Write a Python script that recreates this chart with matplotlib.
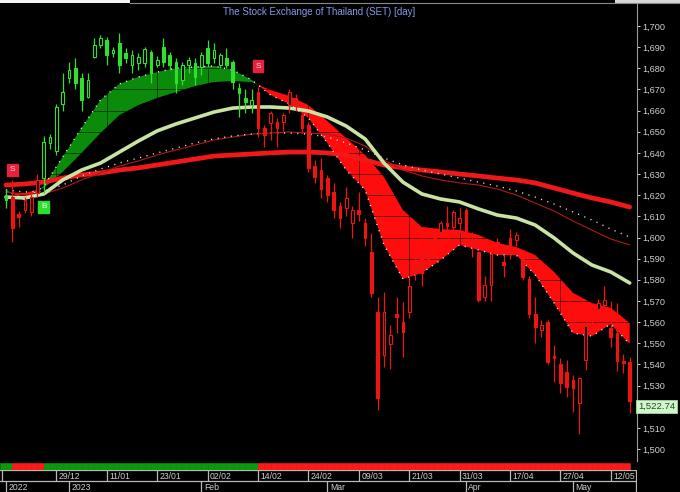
import matplotlib
matplotlib.use('Agg')
import matplotlib.pyplot as plt
import matplotlib.transforms as mtransforms
from matplotlib.patches import Rectangle
import numpy as np

plt.rcParams['font.family'] = ['Liberation Sans', 'DejaVu Sans']

# daily candles of the SET index, 19/12/2022 .. 16/05/2023
opens = [1620, 1619, 1611, 1613, 1612, 1621, 1628, 1644.5, 1641, 1663,
         1675.5, 1680, 1675.5, 1666.5, 1685.3, 1691, 1693.4, 1687.2, 1692, 1687,
         1681.6, 1682.5, 1682.5, 1687.7, 1681.6, 1690, 1686.3, 1683, 1674.5, 1681.6,
         1682.5, 1680.6, 1689.6, 1685, 1681.6, 1685, 1683, 1670.7, 1666, 1662.6,
         1669, 1652, 1654, 1654.6, 1654.6, 1662.6, 1666, 1658, 1653, 1634,
         1632, 1628, 1621.5, 1615, 1614, 1607, 1613, 1607, 1593, 1564.8,
         1544.5, 1549.5, 1564, 1560, 1565, 1589, 1593, 1594, 1601, 1602.6,
         1607, 1605, 1607, 1613, 1599, 1593, 1572, 1577.5, 1598, 1588.5,
         1600, 1599, 1590, 1580.5, 1564, 1556.3, 1560, 1544, 1540, 1536.4,
         1532.6, 1521.8, 1542, 1564, 1566, 1568, 1557, 1555, 1541.5, 1541]
highs = [1623, 1627, 1612.5, 1619, 1620.5, 1630, 1648, 1649, 1663, 1678,
         1683, 1685, 1678, 1678, 1694.3, 1695.7, 1694.8, 1690, 1696.7, 1689.6,
         1688.6, 1687.2, 1690, 1688.6, 1686, 1694.3, 1687.7, 1685, 1683, 1685.3,
         1685, 1687.7, 1693.4, 1692, 1687, 1689.6, 1684, 1673, 1670, 1670,
         1671, 1653, 1660, 1656.5, 1659, 1670, 1668, 1659.5, 1654.6, 1636.6,
         1637.6, 1629.5, 1626, 1616.8, 1624, 1615, 1621.5, 1609, 1602, 1572,
         1574, 1558.6, 1572, 1569.5, 1582, 1592, 1594, 1597, 1603, 1608,
         1615, 1613, 1614, 1614, 1602.6, 1593.5, 1582, 1593, 1600, 1591.7,
         1604, 1602.5, 1591, 1582, 1572, 1561, 1561, 1549, 1543, 1542,
         1535, 1534, 1562.4, 1567, 1571, 1577, 1570, 1569, 1545, 1543.5]
lows = [1614, 1598, 1605, 1611.5, 1610, 1619, 1621, 1642, 1639, 1660,
        1673, 1670, 1660, 1666, 1685, 1689.6, 1681.6, 1685.3, 1678, 1682.5,
        1678, 1679, 1680.6, 1673, 1680.6, 1680.6, 1679, 1668.3, 1672, 1678,
        1672, 1676.8, 1680.6, 1682.5, 1680, 1680, 1670, 1657, 1659, 1659,
        1647.5, 1643, 1646, 1643, 1650.5, 1659, 1660, 1649.5, 1631, 1626,
        1618.7, 1616.8, 1609, 1604.5, 1610, 1600, 1608, 1596, 1572, 1518.6,
        1539, 1538, 1555, 1543.5, 1562, 1580, 1577, 1587, 1595, 1601,
        1602.6, 1603.5, 1602, 1601.5, 1590.8, 1569.5, 1570, 1570, 1593, 1581.3,
        1590, 1596, 1580, 1562, 1550, 1553, 1540, 1531.7, 1526.5, 1524.6,
        1517.6, 1507, 1537.3, 1558, 1560, 1562, 1548, 1537, 1536, 1517]
closes = [1617.5, 1604.5, 1609.5, 1617.5, 1619, 1627, 1645, 1647.5, 1661.5, 1669,
          1679, 1673, 1665, 1674.5, 1691, 1694.3, 1686.3, 1688.6, 1681.6, 1685,
          1686.3, 1685.3, 1689, 1677.8, 1684, 1683, 1681.6, 1673, 1681.6, 1684,
          1676, 1686.3, 1682.5, 1688.6, 1686.3, 1681.6, 1673.5, 1668.3, 1664, 1665,
          1652, 1648.5, 1659, 1651.8, 1658, 1669, 1662, 1652, 1633, 1628.6,
          1623, 1620, 1613, 1609, 1618.7, 1613, 1611, 1600, 1573.8, 1524,
          1565, 1554, 1562.5, 1555.3, 1577, 1584, 1583, 1590, 1598, 1607,
          1605.5, 1612, 1609, 1602, 1596.5, 1570.5, 1577.5, 1592, 1596, 1587,
          1596, 1601, 1581.5, 1564, 1557.7, 1558.6, 1541, 1543, 1531.2, 1529.3,
          1529, 1533.5, 1558, 1562, 1569, 1570.5, 1553, 1541.5, 1540.5, 1522.74]

# buy / sell signals: bar, kind, level of the marker box
signals = [(1, 'S', 1632), (6, 'B', 1614.5), (40, 'S', 1681)]

# indicator lines, read every third bar
ma_bars = list(range(0, 100, 3))
fast_line = [1622.5, 1617.7, 1624.3, 1638.1, 1651.8, 1665.0, 1672.6, 1675.9, 1678.2, 1680.1,
             1680.6, 1681.1, 1679.2, 1674.5, 1667.4, 1663.1, 1656.5, 1644.7, 1631.9, 1622.5,
             1596.5, 1580.4, 1583.2, 1589.4, 1596.5, 1594.1, 1591.7, 1591.7, 1582.3, 1569.0,
             1554.8, 1553.4, 1559.1, 1549.6]
slow_line = [1621.5, 1621.0, 1623.4, 1631.0, 1640.0, 1649.4, 1657.9, 1662.6, 1666.0, 1668.8,
             1671.6, 1673.5, 1674.0, 1673.5, 1669.7, 1666.9, 1662.6, 1655.1, 1647.0, 1639.0,
             1628.6, 1613.0, 1605.0, 1604.0, 1603.5, 1601.2, 1597.4, 1595.5, 1591.7, 1583.7,
             1573.8, 1569.0, 1566.7, 1559.6]
mid_line = [1619.1, 1618.7, 1620.6, 1627.2, 1631.9, 1635.2, 1640.4, 1645.6, 1650.4, 1653.7,
            1656.5, 1659.3, 1661.2, 1661.7, 1661.7, 1661.2, 1659.8, 1657.0, 1652.7, 1646.6,
            1635.2, 1626.2, 1620.6, 1618.2, 1616.8, 1613.5, 1610.6, 1609.2, 1605.9, 1599.8,
            1592.7, 1587.0, 1583.7, 1578.5]
long_line = [1624.8, 1625.3, 1626.2, 1628.1, 1629.6, 1630.5, 1631.9, 1632.9, 1634.3, 1635.7,
             1637.1, 1638.5, 1639.0, 1639.5, 1640.0, 1640.4, 1640.4, 1640.0, 1639.0, 1636.6,
             1634.3, 1632.9, 1631.9, 1631.0, 1630.0, 1629.1, 1628.1, 1627.2, 1625.8, 1623.4,
             1621.0, 1618.7, 1616.8, 1614.4]
thin_line = [1621.5, 1620.1, 1620.6, 1623.4, 1627.2, 1630.5, 1633.8, 1636.2, 1639.0, 1641.4,
             1643.7, 1646.1, 1647.5, 1648.9, 1649.4, 1649.9, 1649.4, 1648.9, 1647.0, 1643.3,
             1636.6, 1631.9, 1629.1, 1627.2, 1625.8, 1624.8, 1622.9, 1620.1, 1616.3, 1612.5,
             1607.8, 1603.5, 1599.3, 1596.5]
dot_line = [1622.5, 1621.5, 1622.0, 1624.8, 1629.1, 1632.4, 1635.2, 1637.6, 1640.0, 1642.3,
            1644.7, 1646.6, 1648.0, 1648.9, 1649.4, 1649.4, 1648.9, 1647.5, 1644.7, 1641.4,
            1637.6, 1634.3, 1631.9, 1630.0, 1628.1, 1626.2, 1624.3, 1622.0, 1619.1, 1615.8,
            1612.1, 1608.3, 1604.0, 1600.2]

# axis labels
day_bars = [8, 16, 24, 32, 40, 48, 56, 64, 72, 80, 88, 96]
day_labels = ['29/12', '11/01', '23/01', '02/02', '14/02', '24/02',
              '09/03', '21/03', '31/03', '17/04', '27/04', '12/05']
month_bars = [0, 10, 31, 51, 73, 90]
month_labels = ['2022', '2023', 'Feb', 'Mar', 'Apr', 'May']
price_ticks = list(range(1500, 1701, 10))

GREEN = '#2fe02f'
RED = '#ee1414'
FILL_GREEN = '#0a8c0a'
FILL_RED = '#ff0d0d'
TXT = '#cfcfcf'

# trend state per bar from the signals
sig_kind = {b: k for b, k, _ in signals}
trend = []
state = 'G'
for i in range(len(closes)):
    if i in sig_kind:
        state = 'R' if sig_kind[i] == 'S' else 'G'
    trend.append(state)

W, H = 680, 492
fig = plt.figure(figsize=(W / 100, H / 100), dpi=100, facecolor='black')
XL = (-0.952, 100.16)

ax = fig.add_axes([0, 31 / H, 637 / W, 461 / H], facecolor='black')
ax.set_xlim(*XL)
ax.set_ylim(1494.33, 1712.29)

fast = np.array(fast_line)
slow = np.array(slow_line)
ax.fill_between(ma_bars, fast, slow, where=fast >= slow, interpolate=True,
                color=FILL_GREEN, lw=0, zorder=1)
ax.fill_between(ma_bars, fast, slow, where=fast <= slow, interpolate=True,
                color=FILL_RED, lw=0, zorder=1)

ax.plot(ma_bars, long_line, color='#f01818', lw=3.4, zorder=2, solid_capstyle='round')
ax.plot(ma_bars, thin_line, color='#b01818', lw=0.8, zorder=2)
ax.plot(ma_bars, dot_line, color='#e8e8e8', lw=1.0, ls=(0, (0.8, 4.0)), zorder=2)
ax.plot(ma_bars, mid_line, color='#c9e3a2', lw=2.6, zorder=2, solid_capstyle='round')
ax.plot(ma_bars, fast_line, color='#f0f0f0', lw=1.0, ls=(0, (0.8, 4.0)), zorder=2.2)

# candles
for i in range(len(closes)):
    col = GREEN if trend[i] == 'G' else RED
    o, h, l, c = opens[i], highs[i], lows[i], closes[i]
    ax.vlines(i, l, h, color=col, lw=0.9, zorder=3)
    lo, hi = min(o, c), max(o, c)
    face = 'black' if c > o else col
    ax.add_patch(Rectangle((i - 0.21, lo), 0.42, max(hi - lo, 0.4),
                           facecolor=face, edgecolor=col, lw=0.8, zorder=4))

# signal boxes
for b, k, lvl in signals:
    fc = '#e8213c' if k == 'S' else '#2ee02e'
    tc = '#ffd6dc' if k == 'S' else '#e6ffe6'
    ax.text(b, lvl, k, ha='center', va='center', fontsize=6, color=tc, zorder=6,
            bbox=dict(boxstyle='square,pad=0.3', facecolor=fc, edgecolor=fc))

# grid only shows on the coloured bands
ax.set_xticks(day_bars)
ax.set_yticks(price_ticks)
ax.grid(True, color='black', lw=0.7, alpha=0.55)
ax.set_axisbelow('line')
ax.tick_params(axis='x', length=0, labelbottom=False)
ax.yaxis.tick_right()
# the 1,520 label sits under the last-price box
ax.set_yticklabels(['' if v == 1520 else '{:,}'.format(v) for v in price_ticks])
ax.tick_params(axis='y', colors=TXT, labelsize=6.6, length=2.2, pad=1.5, width=0.7)
for s in ['top', 'left', 'bottom']:
    ax.spines[s].set_visible(False)
ax.spines['right'].set_color('#9a9a9a')
ax.spines['right'].set_linewidth(0.8)

# last price box
trans = mtransforms.blended_transform_factory(ax.transAxes, ax.transData)
ax.annotate('{:,.2f}'.format(closes[-1]), xy=(1, closes[-1]), xycoords=trans,
            xytext=(0.8, -4), textcoords='offset points', ha='left', va='center',
            fontsize=6.8, color='#1f4a26', annotation_clip=False, zorder=10,
            bbox=dict(boxstyle='square,pad=0.22', facecolor='#d2f6cc', edgecolor='#a8d8a0', lw=0.6))

# trend strip
sx = ax.figure.add_axes([0, 22 / H, 637 / W, 7 / H], facecolor='black')
sx.set_xlim(*XL)
sx.set_ylim(0, 1)
strip_pos = [-0.5] + [i + 0.5 for i in range(len(closes) - 1)]
strip_col = [trend[0]] + trend[:-1]
sx.bar(strip_pos, 1, width=1.0, bottom=0,
       color=[('#0c990c' if t == 'G' else '#ff1a1a') for t in strip_col],
       edgecolor=[('#0c990c' if t == 'G' else '#ff1a1a') for t in strip_col], lw=0.4)
sx.axis('off')

# date rows
dx = fig.add_axes([0, 0, 637 / W, 22 / H], facecolor='black')
dx.set_xlim(*XL)
dx.set_ylim(0, 2)
dx.axis('off')
bc = '#b8b8b8'
dx.axhline(2, color=bc, lw=0.9)
dx.axhline(1, color=bc, lw=0.9)
dx.plot([0.003, 0.003], [0.5, 1], transform=dx.transAxes, color=bc, lw=0.9)
dx.plot([0.999, 0.999], [0, 1], transform=dx.transAxes, color=bc, lw=0.9)
dx.vlines(day_bars, 1, 2, color=bc, lw=0.9)
dx.vlines(month_bars, 0, 1, color=bc, lw=0.9)
for b, t in zip(day_bars, day_labels):
    dx.text(b + 0.4, 1.45, t, ha='left', va='center', fontsize=6.2, color=TXT)
for b, t in zip(month_bars, month_labels):
    dx.text(b + 0.4, 0.45, t, ha='left', va='center', fontsize=6.2, color=TXT)

# window edge at the top
fig.add_artist(Rectangle((0, 1 - 3 / H), 130 / W, 3 / H, transform=fig.transFigure,
                         facecolor='#f4f4f4', edgecolor='none'))
fig.add_artist(Rectangle((615 / W, 1 - 3 / H), 65 / W, 3 / H, transform=fig.transFigure,
                         facecolor='#d8d8d8', edgecolor='none'))
fig.add_artist(plt.Line2D([130 / W, 1], [1 - 3 / H, 1 - 3 / H], transform=fig.transFigure,
                          color='#8a8a8a', lw=0.8))

fig.text(319 / W, 1 - 12 / H, 'The Stock Exchange of Thailand (SET) [day]',
         ha='center', va='center', fontsize=7, color='#8898ea')

fig.savefig('out.png', dpi=100, facecolor='black')
